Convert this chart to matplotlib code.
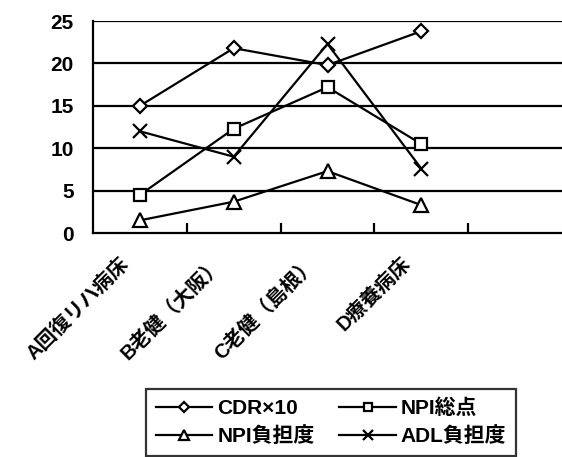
import numpy as np
import matplotlib.pyplot as plt
from matplotlib.transforms import ScaledTranslation

plt.rcParams['font.family'] = ['Liberation Sans', 'Noto Sans CJK JP']
plt.rcParams['font.weight'] = 'bold'

# Daten
kategorien = ['A回復リハ病床', 'B老健（大阪）', 'C老健（島根）', 'D療養病床']
cdr_x10 = [15.0, 21.8, 19.8, 23.8]
npi_total = [4.5, 12.3, 17.2, 10.5]
npi_burden = [1.5, 3.7, 7.3, 3.3]
adl_burden = [12.0, 9.0, 22.3, 7.6]
yticks = [0, 5, 10, 15, 20, 25]

fig = plt.figure(figsize=(5.62, 4.57), dpi=100)
ax = fig.add_axes([0.1655, 0.490, 0.8345, 0.464])

x = np.arange(len(kategorien))
stil = dict(color='black', lw=1.6, mfc='white', mec='black', mew=1.6)
l1, = ax.plot(x, cdr_x10, marker='D', ms=7, **stil)
l2, = ax.plot(x, npi_total, marker='s', ms=9, **stil)
l3, = ax.plot(x, npi_burden, marker='^', ms=10, **stil)
l4, = ax.plot(x, adl_burden, marker='x', ms=10.5, **stil)

ax.set_xlim(-0.5, 4.5)
ax.set_ylim(0, 25)
ax.set_yticks(yticks)
for y in yticks[1:]:
    ax.axhline(y, color='black', lw=1.6, zorder=0)

ax.spines['top'].set_visible(False)
ax.spines['right'].set_visible(False)
ax.spines['left'].set_linewidth(1.6)
ax.spines['bottom'].set_linewidth(1.6)

ax.tick_params(axis='y', length=0, pad=14, labelsize=15)
ax.set_xticks(x)
ax.set_xticklabels(kategorien, rotation=45, ha='right', va='center',
                   rotation_mode='anchor', fontsize=14.5)
ax.tick_params(axis='x', which='major', length=0, pad=20)
# Beschriftungen etwas nach links schieben
verschiebung = ScaledTranslation(-0.14, 0, fig.dpi_scale_trans)
for lbl in ax.get_xticklabels():
    lbl.set_transform(lbl.get_transform() + verschiebung)
ax.set_xticks(np.arange(0.5, 4.5, 1), minor=True)
ax.tick_params(axis='x', which='minor', direction='in', length=7, width=1.6)

# Legende: 2 Spalten, spaltenweise befuellt
leg = fig.legend([l1, l3, l2, l4],
                 ['CDR×10', 'NPI負担度', 'NPI総点', 'ADL負担度'],
                 ncol=2, loc='center', bbox_to_anchor=(0.589, 0.0755),
                 frameon=True, fancybox=False, edgecolor='black',
                 fontsize=15, handlelength=2.7, columnspacing=1.2,
                 handletextpad=0.25, borderpad=0.45, labelspacing=0.4,
                 markerscale=0.7, borderaxespad=0)
leg.get_frame().set_linewidth(1.6)

plt.savefig('out.png', dpi=100)
